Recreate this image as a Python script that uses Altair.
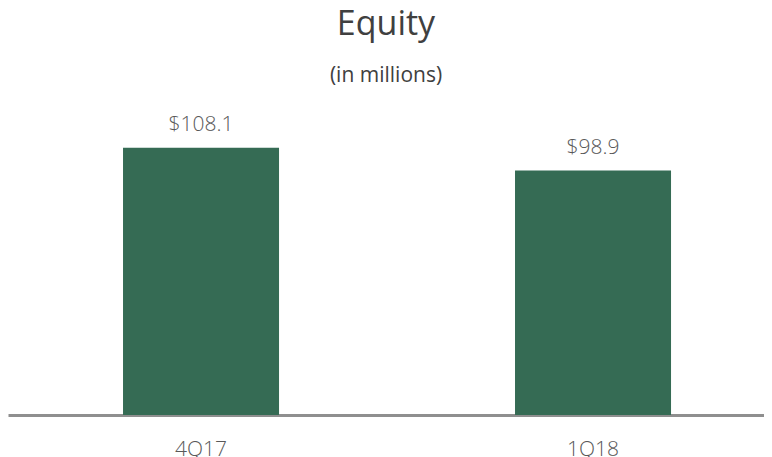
import altair as alt
import pandas as pd

categories = ["4Q17", "1Q18"]
values = [108.1, 98.9]
labels = ["$108.1", "$98.9"]

df = pd.DataFrame({"cat": categories, "val": values, "lbl": labels})

FONT = "Open Sans"

base = alt.Chart(df).encode(
    x=alt.X(
        "cat:N",
        sort=None,
        title=None,
        scale=alt.Scale(paddingInner=0.602, paddingOuter=0.2653, align=0.553),
        axis=alt.Axis(
            domainColor="#8f8f8f",
            domainWidth=3,
            ticks=False,
            labelAngle=0,
            labelFont=FONT,
            labelFontWeight=300,
            labelFontSize=21,
            labelColor="#595959",
            labelPadding=23,
        ),
    ),
    y=alt.Y("val:Q", scale=alt.Scale(domain=[0, 125]), axis=None),
)

bars = base.mark_bar(color="#356B54")
text = base.mark_text(
    baseline="alphabetic", dy=-17, font=FONT, fontWeight=300, fontSize=21, color="#595959"
).encode(text="lbl:N")

chart = (
    (bars + text)
    .properties(
        width=756,
        height=309,
        title=alt.TitleParams(
            text="Equity",
            subtitle="(in millions)",
            font=FONT,
            fontSize=34,
            fontWeight=400,
            color="#404040",
            subtitleFont=FONT,
            subtitleFontSize=21,
            subtitleColor="#404040",
            subtitlePadding=23,
            anchor="middle",
            offset=20,
        ),
        padding={"left": 0, "right": 0, "top": 0, "bottom": 0},
    )
    .configure_view(stroke=None)
)

chart.save("out.html", embed_options={"renderer": "svg", "actions": False})
